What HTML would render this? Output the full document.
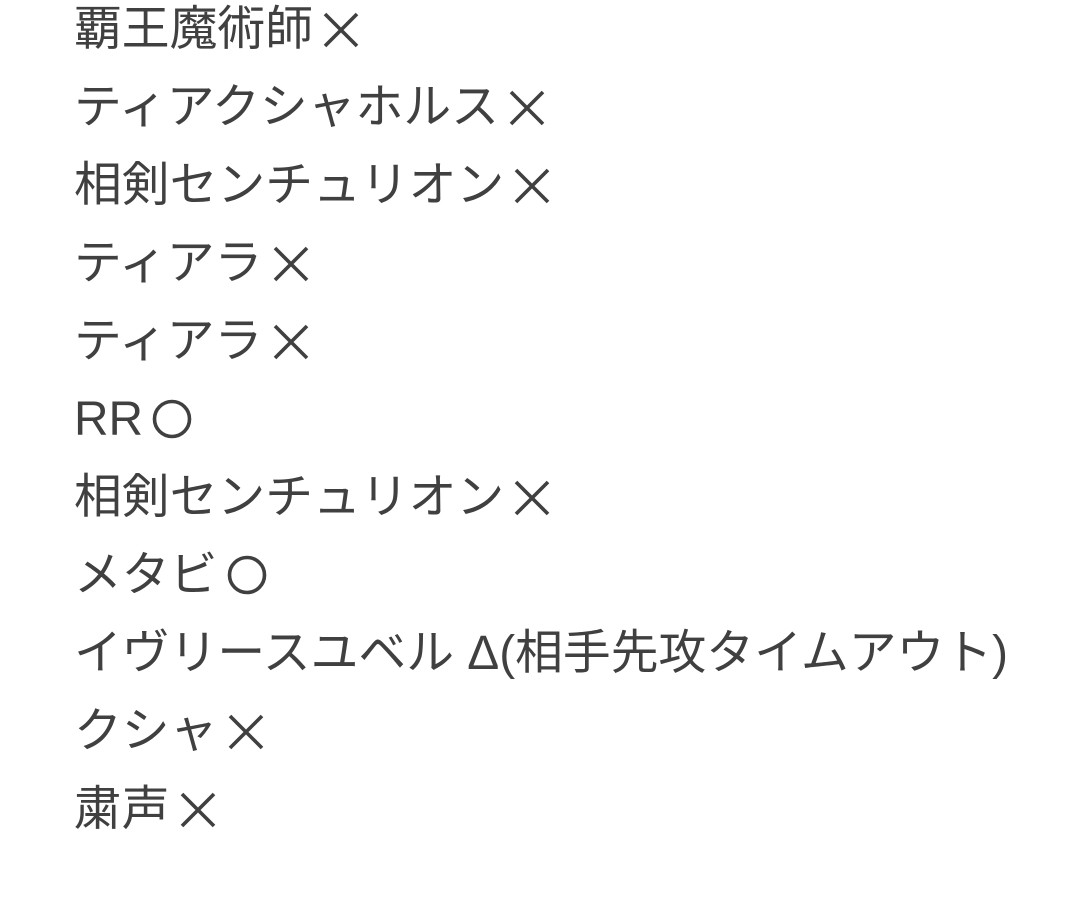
<!DOCTYPE html>
<html><head><meta charset="utf-8"><style>
html,body{margin:0;padding:0;background:#fff;width:1085px;height:911px;overflow:hidden}
.w{position:absolute;left:74px;top:-9px;font-family:"Liberation Sans","Noto Sans CJK JP",sans-serif;font-size:47.8px;line-height:78px;color:#404040;white-space:nowrap}
svg{display:inline-block;vertical-align:-4px;margin-left:-4px}
</style></head><body><div class="w">
<div>覇王魔術師 <svg width="38" height="38"><path d="M3 3L35 35M35 3L3 35" stroke="#404040" stroke-width="3.6"/></svg></div>
<div>ティアクシャホルス <svg width="38" height="38"><path d="M3 3L35 35M35 3L3 35" stroke="#404040" stroke-width="3.6"/></svg></div>
<div>相剣センチュリオン <svg width="38" height="38"><path d="M3 3L35 35M35 3L3 35" stroke="#404040" stroke-width="3.6"/></svg></div>
<div>ティアラ <svg width="38" height="38"><path d="M3 3L35 35M35 3L3 35" stroke="#404040" stroke-width="3.6"/></svg></div>
<div>ティアラ <svg width="38" height="38"><path d="M3 3L35 35M35 3L3 35" stroke="#404040" stroke-width="3.6"/></svg></div>
<div>RR <svg width="40" height="40"><circle cx="20" cy="20" r="17.5" fill="none" stroke="#404040" stroke-width="3.6"/></svg></div>
<div>相剣センチュリオン <svg width="38" height="38"><path d="M3 3L35 35M35 3L3 35" stroke="#404040" stroke-width="3.6"/></svg></div>
<div>メタビ <svg width="40" height="40"><circle cx="20" cy="20" r="17.5" fill="none" stroke="#404040" stroke-width="3.6"/></svg></div>
<div>イヴリースユベル Δ(相手先攻タイムアウト)</div>
<div>クシャ <svg width="38" height="38"><path d="M3 3L35 35M35 3L3 35" stroke="#404040" stroke-width="3.6"/></svg></div>
<div>粛声 <svg width="38" height="38"><path d="M3 3L35 35M35 3L3 35" stroke="#404040" stroke-width="3.6"/></svg></div>
</div></body></html>
